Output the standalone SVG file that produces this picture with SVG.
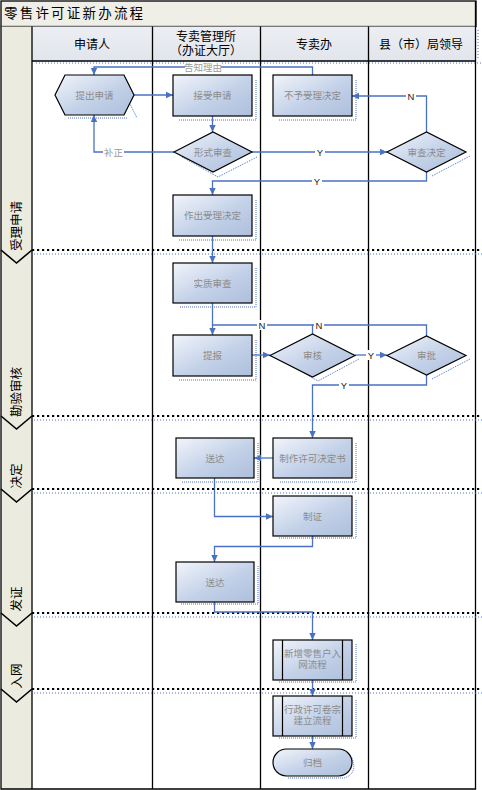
<svg xmlns="http://www.w3.org/2000/svg" width="482" height="790" viewBox="0 0 482 790">
<style>
.lane{stroke:#000;stroke-width:1.3;fill:none}
.node{fill:url(#g);stroke:#000;stroke-width:1.2}
.sh{fill:none;stroke:#4a72c4;stroke-width:1;stroke-dasharray:1 1}
.nt{font-family:"Liberation Sans","Noto Sans CJK SC",sans-serif;font-size:9.5px;fill:#8c8c8c;text-anchor:middle}
.ht{font-family:"Liberation Sans","Noto Sans CJK SC",sans-serif;font-size:12px;fill:#000;text-anchor:middle}
.pt{font-family:"Liberation Sans","Noto Sans CJK SC",sans-serif;font-size:12.5px;fill:#000;text-anchor:middle}
.c{fill:none;stroke:#4a72c4;stroke-width:1.3}
.ca{fill:none;stroke:#4a72c4;stroke-width:1.3;marker-end:url(#ar)}
.lb{font-family:"Liberation Sans","Noto Sans CJK SC",sans-serif;font-size:9.5px;fill:#222;text-anchor:middle}
.lg{font-family:"Liberation Sans","Noto Sans CJK SC",sans-serif;font-size:9.5px;fill:#9a9a9a;text-anchor:middle}
.sep{stroke:#000;stroke-width:2.2;stroke-dasharray:2.2 2.8;fill:none}
.sepb{stroke:#4a72c4;stroke-width:1;stroke-dasharray:1 2;fill:none}
.chev{fill:none;stroke:#000;stroke-width:1.6}
</style>
<defs>
<linearGradient id="g" x1="0" y1="0" x2="1" y2="1">
<stop offset="0" stop-color="#f2f5fb"/>
<stop offset="0.55" stop-color="#c3d1e8"/>
<stop offset="1" stop-color="#aebfdc"/>
</linearGradient>
<linearGradient id="hg" x1="0" y1="0" x2="0" y2="1">
<stop offset="0" stop-color="#eceef3"/>
<stop offset="1" stop-color="#e2e5ec"/>
</linearGradient>
<marker id="ar" markerUnits="userSpaceOnUse" markerWidth="8" markerHeight="8" refX="7" refY="4" orient="auto">
<path d="M0,0.8 L7,4 L0,7.2 z" fill="#4a72c4"/>
</marker>
</defs>

<g id="frame">
<rect x="0" y="0" width="482" height="790" fill="#fff"/>
<rect x="1" y="1" width="475" height="25.5" fill="#efefe8" stroke="#000" stroke-width="1.3"/>
<text x="4" y="18" font-family="Liberation Sans,'Noto Sans CJK SC',sans-serif" font-size="13.5" letter-spacing="2.2" fill="#000">零售许可证新办流程</text>
<rect x="1" y="26.5" width="31" height="762.5" fill="#ebecdf"/>
<rect x="32" y="26.5" width="443.5" height="34.5" fill="url(#hg)"/>
<path class="lane" d="M1,26.5 V789 H475.5 V1 M32,26.5 V789 M152.5,26.5 V789 M260.5,26.5 V789 M368.5,26.5 V789 M32,61 H475.5"/>
<path class="sepb" d="M36,63 H482 M478,30 V60"/>
<text class="ht" x="92" y="49">申请人</text>
<text class="ht" x="206" y="41">专卖管理所</text>
<text class="ht" x="206" y="55">（办证大厅）</text>
<text class="ht" x="314" y="49">专卖办</text>
<text class="ht" x="421" y="49">县（市）局领导</text>
</g>

<g id="phases">
<path class="sep" d="M32,250 H481 M32,416 H481 M32,489 H481 M32,613 H481 M32,689 H481"/>
<path class="sepb" d="M34,254 H482 M34,420 H482 M34,493 H482 M34,617 H482 M34,693 H482"/>
<path class="chev" d="M1,250 L16.5,263 L32,250 M1,416 L16.5,429 L32,416 M1,489 L16.5,502 L32,489 M1,613 L16.5,626 L32,613 M1,689 L16.5,702 L32,689"/>
<text class="pt" transform="translate(20.5,226) rotate(-90)">受理申请</text>
<text class="pt" transform="translate(20.5,392) rotate(-90)">勘验审核</text>
<text class="pt" transform="translate(20.5,476) rotate(-90)">决定</text>
<text class="pt" transform="translate(20.5,599) rotate(-90)">发证</text>
<text class="pt" transform="translate(20.5,676) rotate(-90)">入网</text>
</g>

<g id="connectors">
<path class="ca" d="M134,95 H173"/>
<path class="ca" d="M312.5,75 V67 H94 V75"/>
<path class="ca" d="M212.5,116 V132"/>
<path class="ca" d="M174,152 H94 V115"/>
<path class="ca" d="M252,152 H387"/>
<path class="ca" d="M426.5,132 V96 H352"/>
<path class="ca" d="M426.5,172 V181 H212.5 V195"/>
<path class="ca" d="M212.5,236 V263"/>
<path class="ca" d="M212.5,303 V335"/>
<path class="c" d="M312.5,334 V325 H212.5"/>
<path class="c" d="M426.5,336 V325 H312.5"/>
<path class="ca" d="M252,355 H270"/>
<path class="ca" d="M355,355 H387"/>
<path class="ca" d="M426.5,375 V385 H312.5 V438"/>
<path class="ca" d="M273,458 H254"/>
<path class="ca" d="M214.5,478 V516.5 H273"/>
<path class="ca" d="M312.5,536 V546.5 H214.5 V562"/>
<path class="ca" d="M214.5,602 V612 H312.5 V640"/>
<path class="ca" d="M312.5,680 V696"/>
<path class="ca" d="M312.5,736 V749"/>
<rect x="185" y="62" width="36" height="10" fill="#fff"/>
<text class="lg" x="203" y="70.5">告知理由</text>
<rect x="103" y="147" width="21" height="10" fill="#fff"/>
<text class="lg" x="113.5" y="155.5">补正</text>
<rect x="315" y="147" width="10" height="10" fill="#fff"/>
<text class="lb" x="320" y="155.5">Y</text>
<rect x="406" y="91" width="10" height="10" fill="#fff"/>
<text class="lb" x="411" y="99.5">N</text>
<rect x="312" y="176" width="10" height="10" fill="#fff"/>
<text class="lb" x="317" y="184.5">Y</text>
<rect x="257" y="320" width="10" height="10" fill="#fff"/>
<text class="lb" x="262" y="328.5">N</text>
<rect x="314" y="320" width="10" height="10" fill="#fff"/>
<text class="lb" x="319" y="328.5">N</text>
<rect x="366" y="350" width="10" height="10" fill="#fff"/>
<text class="lb" x="371" y="358.5">Y</text>
<rect x="339" y="380" width="10" height="10" fill="#fff"/>
<text class="lb" x="344" y="388.5">Y</text>
</g>

<g id="n1">
<path class="sh" d="M128,100 L137,118 M68,118 H128"/>
<polygon class="node" points="55,95 65,75 124,75 134,95 124,115 65,115"/>
<text class="nt" x="94.5" y="98.5">提出申请</text>
</g>
<g id="n2">
<path class="sh" d="M256,80 V120 H178"/>
<rect class="node" x="173" y="75" width="79" height="41"/>
<text class="nt" x="212.5" y="99">接受申请</text>
</g>
<g id="n3">
<path class="sh" d="M356,80 V120 H278"/>
<rect class="node" x="273" y="75" width="79" height="41"/>
<text class="nt" x="312.5" y="99">不予受理决定</text>
</g>
<g id="n4">
<path class="sh" d="M182,157 L218,177 L257,157"/>
<polygon class="node" points="174,152 213,132 252,152 213,172"/>
<text class="nt" x="213" y="155.5">形式审查</text>
</g>
<g id="n5">
<path class="sh" d="M432,176 L470,156"/>
<polygon class="node" points="387,152 426.5,132 466,152 426.5,172"/>
<text class="nt" x="426.5" y="155.5">审查决定</text>
</g>
<g id="n6">
<path class="sh" d="M256,200 V240 H178"/>
<rect class="node" x="173" y="195" width="79" height="41"/>
<text class="nt" x="212.5" y="219">作出受理决定</text>
</g>
<g id="n7">
<path class="sh" d="M256,268 V307 H180"/>
<rect class="node" x="173" y="263" width="79" height="40"/>
<text class="nt" x="212.5" y="286.5">实质审查</text>
</g>
<g id="n8">
<path class="sh" d="M256,340 V380 H178"/>
<rect class="node" x="173" y="335" width="79" height="41"/>
<text class="nt" x="212.5" y="359">提报</text>
</g>
<g id="n9">
<path class="sh" d="M283,361 L318,381 L359,359"/>
<polygon class="node" points="270,355.5 312.5,334 355,355.5 312.5,377"/>
<text class="nt" x="312.5" y="359">审核</text>
</g>
<g id="n10">
<path class="sh" d="M432,379 L470,359"/>
<polygon class="node" points="387,355.5 426.5,336 466,355.5 426.5,375"/>
<text class="nt" x="426.5" y="359">审批</text>
</g>
<g id="n11">
<path class="sh" d="M258,443 V482 H181"/>
<rect class="node" x="176" y="438" width="78" height="40"/>
<text class="nt" x="215" y="461.5">送达</text>
</g>
<g id="n12">
<path class="sh" d="M356,443 V482 H279"/>
<rect class="node" x="273" y="438" width="79" height="40"/>
<text class="nt" x="312.5" y="461.5">制作许可决定书</text>
</g>
<g id="n13">
<path class="sh" d="M356,500 V538 H279"/>
<rect class="node" x="273" y="496" width="79" height="40"/>
<text class="nt" x="312.5" y="519.5">制证</text>
</g>
<g id="n14">
<path class="sh" d="M258,566 V604 H181"/>
<rect class="node" x="176" y="562" width="78" height="40"/>
<text class="nt" x="215" y="585.5">送达</text>
</g>
<g id="n15">
<path class="sh" d="M356,644 V682 H279"/>
<rect class="node" x="273" y="640" width="79" height="40"/>
<path fill="none" stroke="#000" stroke-width="1.2" d="M282.5,640 V680 M342.5,640 V680"/>
<text class="nt" x="312.5" y="657">新增零售户入</text>
<text class="nt" x="312.5" y="668">网流程</text>
</g>
<g id="n16">
<path class="sh" d="M356,700 V738 H279"/>
<rect class="node" x="273" y="696" width="79" height="40"/>
<path fill="none" stroke="#000" stroke-width="1.2" d="M282.5,696 V736 M342.5,696 V736"/>
<text class="nt" x="312.5" y="713">行政许可卷宗</text>
<text class="nt" x="312.5" y="724">建立流程</text>
</g>
<g id="n17">
<path class="sh" d="M352,758 Q358,774 344,778 H288"/>
<rect class="node" x="273" y="749" width="79" height="27" rx="13.5" ry="13.5"/>
<text class="nt" x="312.5" y="766">归档</text>
</g>
</svg>
